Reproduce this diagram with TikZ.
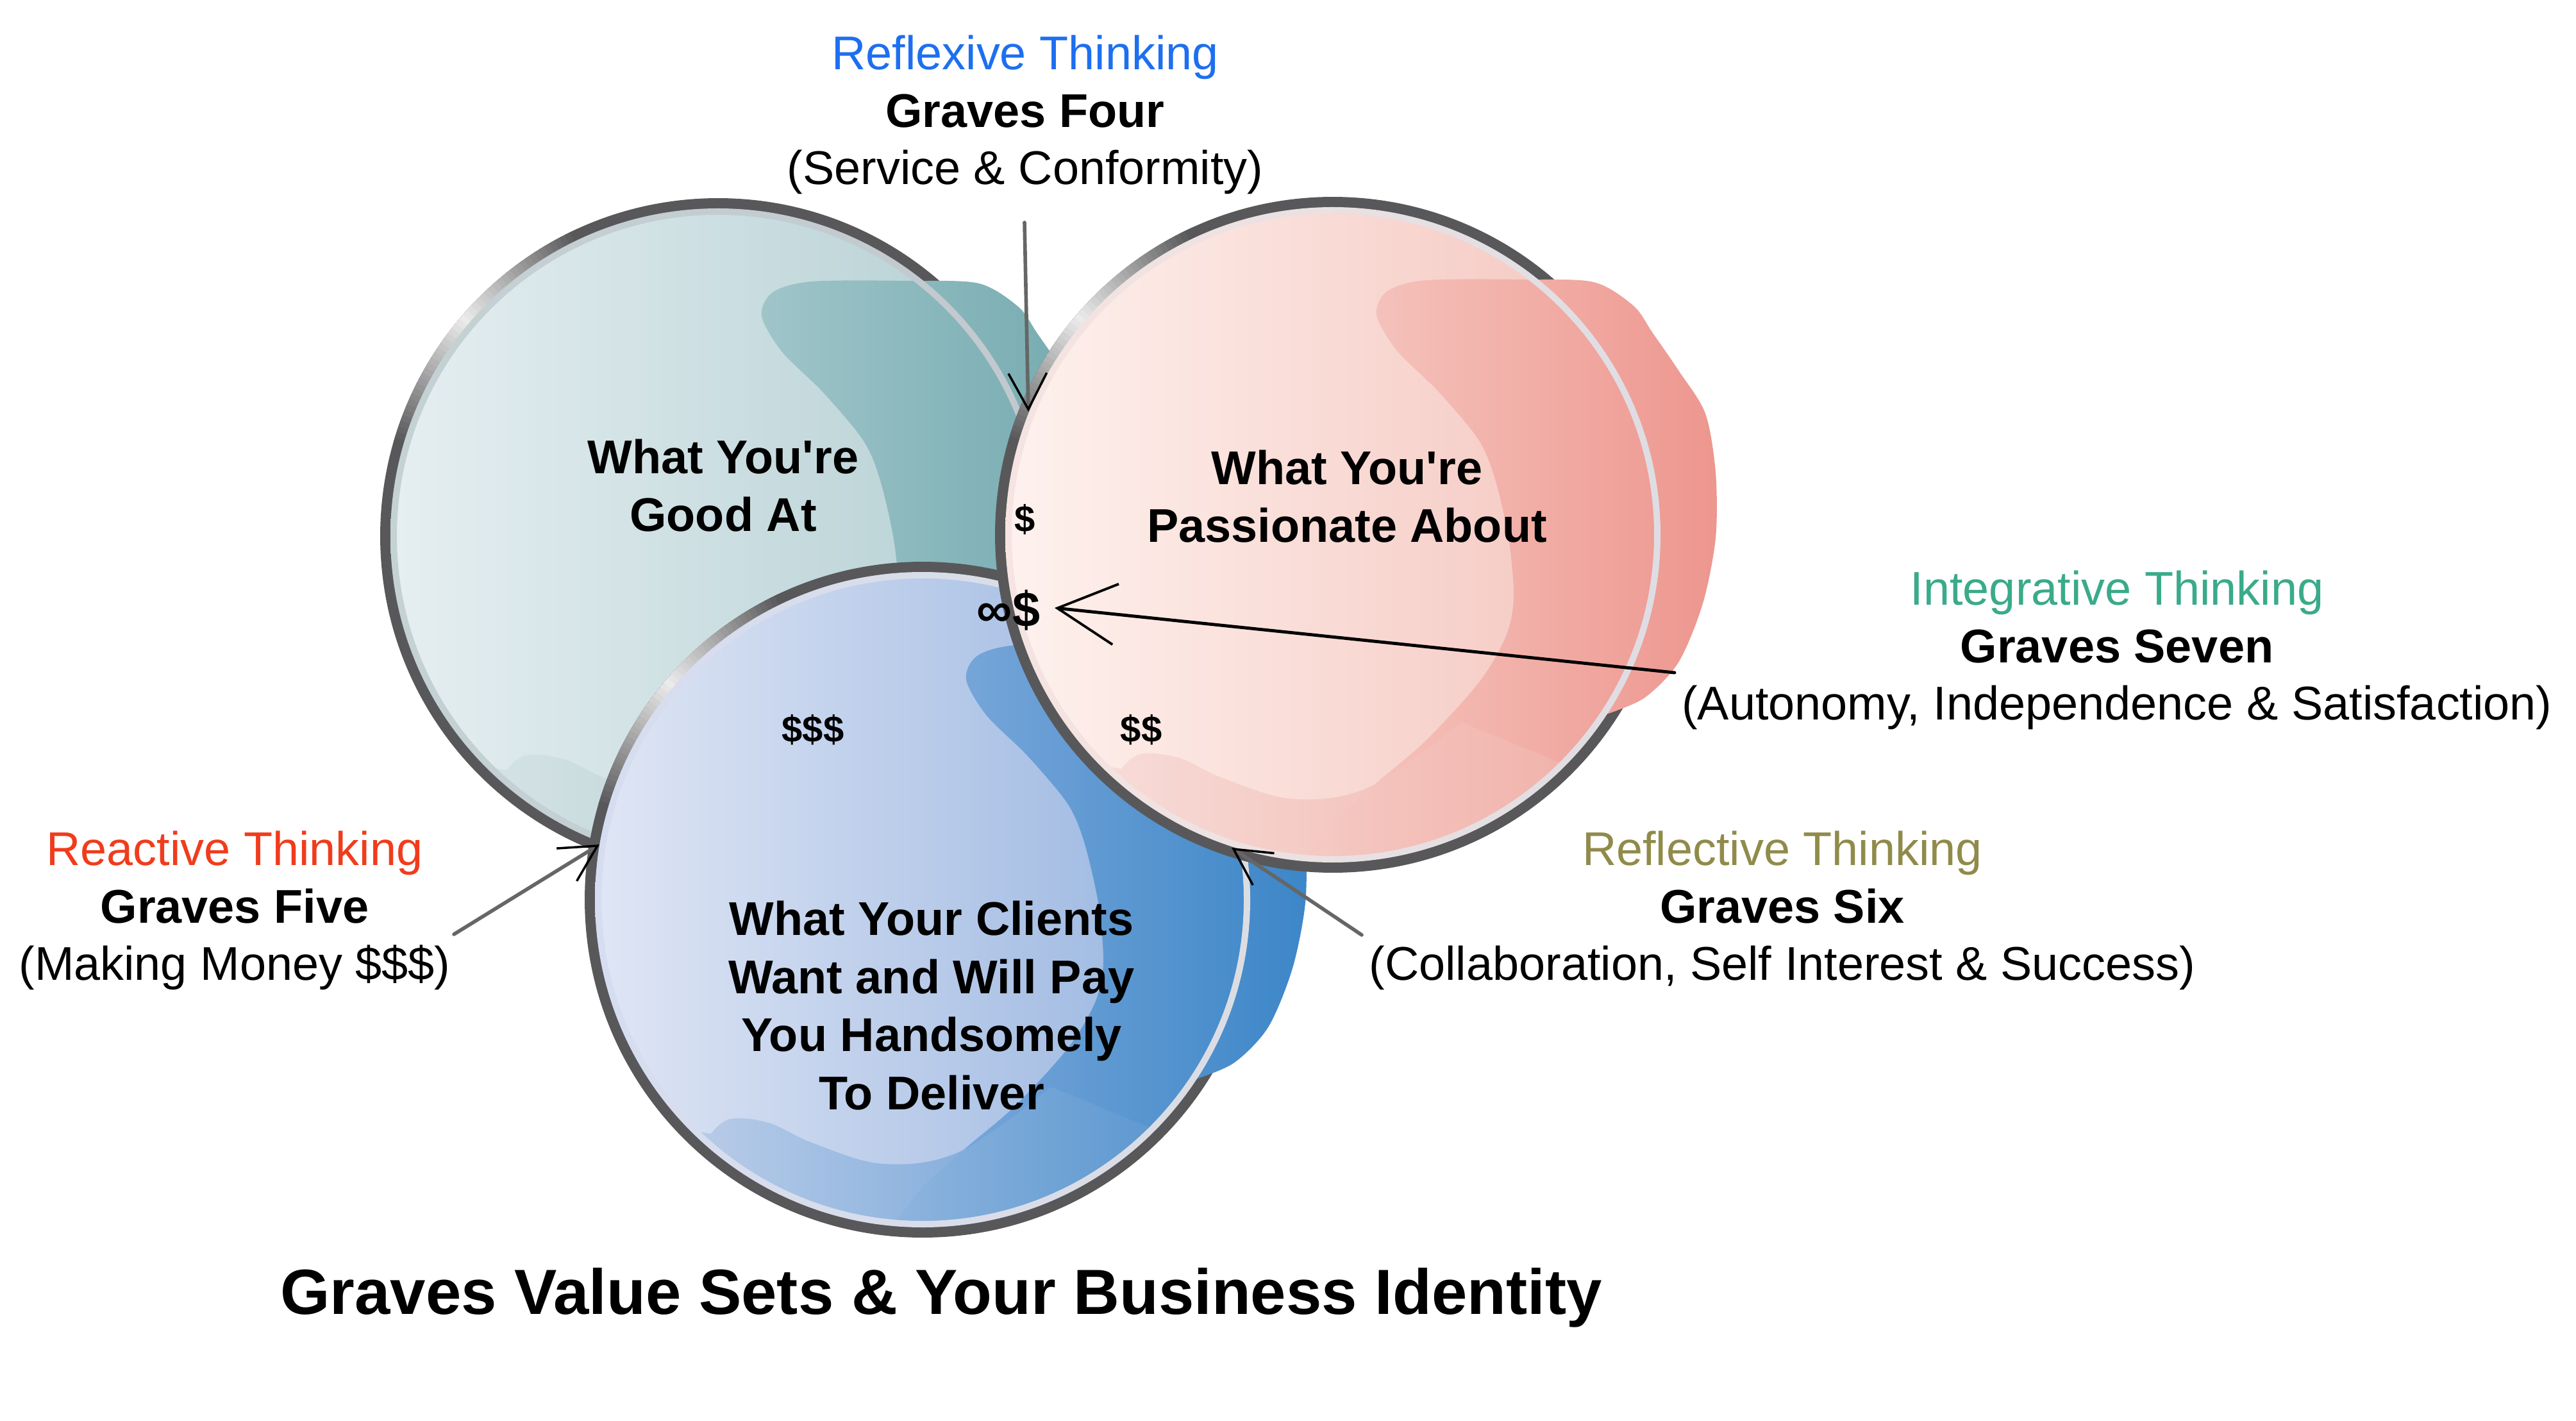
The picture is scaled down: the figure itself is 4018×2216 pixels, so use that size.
\documentclass[tikz,border=0pt]{standalone}
\usepackage{fontspec}
\setmainfont{Liberation Sans}[Ligatures=TeXOff]
\usetikzlibrary{arrows.meta}

\definecolor{outl}{HTML}{58585A}
\definecolor{shaftgray}{HTML}{666666}
% teal bubble
\definecolor{AfillL}{HTML}{E6EFF1}\definecolor{AfillR}{HTML}{B2CED2}
\definecolor{AblobL}{HTML}{A9CBCF}\definecolor{AblobR}{HTML}{72A9AE}
\definecolor{AringL}{HTML}{C4D2D4}\definecolor{AringR}{HTML}{C2C8CE}
\definecolor{AstrL}{HTML}{D3E2E5}\definecolor{AstrR}{HTML}{A9C9CC}
% blue bubble
\definecolor{BfillL}{HTML}{E0E6F5}\definecolor{BfillR}{HTML}{92B1DE}
\definecolor{BblobL}{HTML}{82ACDC}\definecolor{BblobR}{HTML}{3C86C8}
\definecolor{BringL}{HTML}{D6DDF0}\definecolor{BringR}{HTML}{DCDDE3}
\definecolor{BstrL}{HTML}{B6CAE8}\definecolor{BstrR}{HTML}{5F9AD2}
% pink bubble
\definecolor{CfillL}{HTML}{FEF2EE}\definecolor{CfillR}{HTML}{F4C3BC}
\definecolor{CblobL}{HTML}{F6CBC4}\definecolor{CblobR}{HTML}{ED968E}
\definecolor{CringL}{HTML}{F5E4E1}\definecolor{CringR}{HTML}{DEDDE3}
\definecolor{CstrL}{HTML}{F7DAD6}\definecolor{CstrR}{HTML}{F2B5AD}
% text colours
\definecolor{cReflexive}{HTML}{1E6FF0}
\definecolor{cIntegr}{HTML}{3AAA8A}
\definecolor{cReactive}{HTML}{F03C1C}
\definecolor{cReflective}{HTML}{908B4A}

\newcommand{\mybubble}[3]{%
\begin{scope}[shift={(#1,#2)}]
  \shade[left color=#3fillL, right color=#3fillR] (0,0) circle[radius=518];
  \draw[line width=5.1pt, draw=outl] (0,0) circle[radius=518];
  \foreach \a in {196,...,244}{%
    \pgfmathsetmacro\p{max(0,88*(1-abs(\a-220)/24))}%
    \draw[line width=5.1pt, draw=white!\p!outl] (\a:518) arc[start angle=\a, end angle=\a+1.4, radius=518];}
  \shade[left color=#3blobL, right color=#3blobR] plot[smooth, tension=0.5] coordinates {(1,446) (70,385) (145,321) (228,230) (270,158) (282,97) (274,5) (252,-90) (226,-150) (163,-225) (100,-287) (68,-343) (85,-380) (146,-397) (300,-398) (407,-394) (469,-357) (498,-316) (540,-255) (581,-189) (597,-97) (597,5) (577,107) (539,199) (485,255) (420,282)} arc[start angle=33.9, end angle=95, radius=506] -- cycle;
  \shade[left color=#3strL, right color=#3strR, opacity=0.9] plot[smooth, tension=0.6] coordinates {(-330,365) (-300,342) (-240,348) (-170,380) (-60,412) (60,392) (200,292)} -- (45:503) arc[start angle=45, end angle=134, radius=503] -- cycle;
  \shade[even odd rule, left color=#3ringL, right color=#3ringR] (0,0) circle[radius=511] (0,0) circle[radius=501];
\end{scope}}

\tikzset{
  every node/.style={inner sep=0pt, outer sep=0pt},
  lbl/.style={align=center, font=\fontsize{21}{25.5}\selectfont},
  clbl/.style={align=center, font=\fontsize{21}{25.8}\selectfont\bfseries},
  dol/.style={font=\fontsize{16.5}{18}\selectfont\bfseries},
  shaftg/.style={draw=shaftgray, line width=1.6pt, line cap=round},
  barb/.style={-{Straight Barb[length=16pt, width=17pt, line width=1pt, color=black]}}
}

\begin{document}
\begin{tikzpicture}[x=0.01cm, y=-0.01cm]
  \fill[white] (0,0) rectangle (4018,2216);
  \useasboundingbox (0,0) rectangle (4018,2216);

  % bubbles: teal (back), blue, pink (front)
  \mybubble{1120}{836}{A}
  \mybubble{1439}{1403}{B}
  \mybubble{2079}{834}{C}

  % circle labels
  \node[clbl] (good) at (1128,757) {What You're\\Good At};
  \node[clbl] (pass) at (2101,774) {What You're\\Passionate About};
  \node[clbl] (clients) at (1453,1568) {What Your Clients\\Want and Will Pay\\You Handsomely\\To Deliver};

  % dollar marks
  \node[dol] (d1) at (1599,810) {\$};
  \node[dol] (d3) at (1268,1138) {\$\$\$};
  \node[dol] (d2) at (1780,1138) {\$\$};
  \node[font=\fontsize{22}{24}\selectfont\bfseries] (dinf) at (1573,952) {∞\$};

  % outer labels
  \node[lbl] (g4) at (1599,179) {\textcolor{cReflexive}{Reflexive Thinking}\\\textbf{Graves Four}\\(Service \& Conformity)};
  \node[lbl] (g7) at (3302,1014) {\textcolor{cIntegr}{Integrative Thinking}\\\textbf{Graves Seven}\\(Autonomy, Independence \& Satisfaction)};
  \node[lbl] (g5) at (366,1420) {\textcolor{cReactive}{Reactive Thinking}\\\textbf{Graves Five}\\(Making Money \$\$\$)};
  \node[lbl] (g6) at (2780,1420) {\textcolor{cReflective}{Reflective Thinking}\\\textbf{Graves Six}\\(Collaboration, Self Interest \& Success)};

  % title
  \node[font=\fontsize{28.3}{32}\selectfont\bfseries, anchor=base] (title) at (1468,2049) {Graves Value Sets \& Your Business Identity};

  % connectors
  \coordinate (a4s) at (1598,347);  \coordinate (a4e) at (1604,642);
  \coordinate (a7s) at (2612,1049); \coordinate (a7e) at (1645,948);
  \coordinate (a5s) at (708,1457);  \coordinate (a5e) at (935,1317);
  \coordinate (a6s) at (2124,1458); \coordinate (a6e) at (1921,1322);

  \draw[shaftg, barb] (a4s) -- (a4e);
  \draw[shaftg, barb] (a5s) -- (a5e);
  \draw[shaftg, barb] (a6s) -- (a6e);
  \draw[draw=black, line width=1.4pt, line cap=round, -{Straight Barb[length=26pt, width=27pt, line width=1.1pt]}] (a7s) -- (a7e);
\end{tikzpicture}
\end{document}
